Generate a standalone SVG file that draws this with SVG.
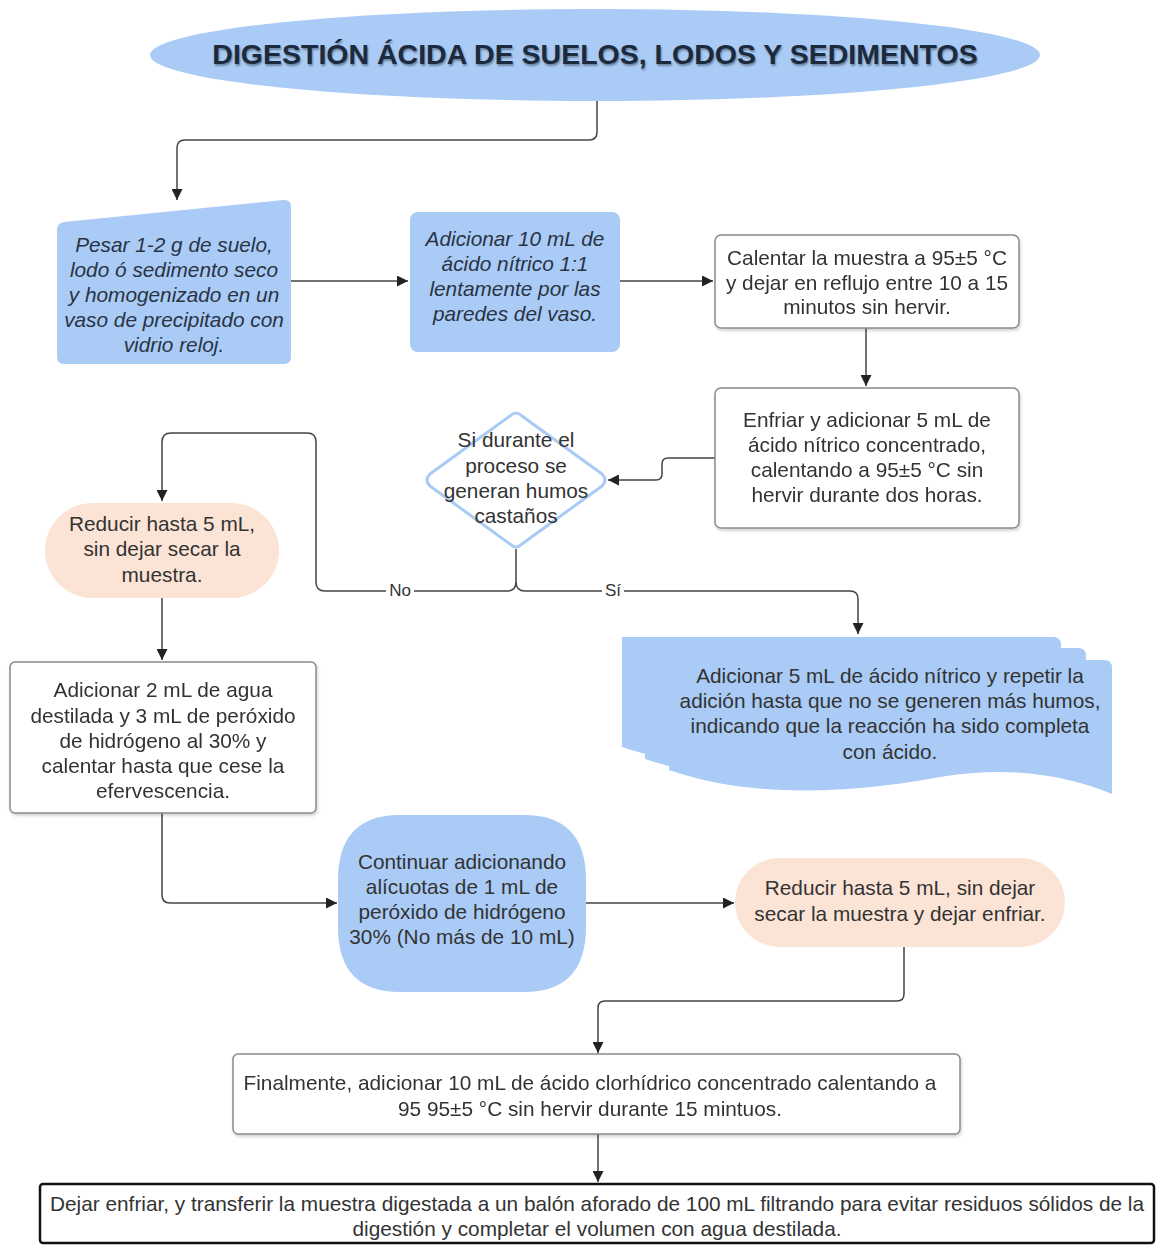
<svg xmlns="http://www.w3.org/2000/svg" width="1157" height="1245" viewBox="0 0 1157 1245">
  <defs>
    <style>
      .t { font-family: "Liberation Sans", Arial, sans-serif; font-size: 20.8px; fill: #333; text-anchor: middle; }
      .it { font-style: italic; fill: #2a3344; }
      .title { font-family: "Liberation Sans", Arial, sans-serif; font-size: 28.5px; font-weight: bold; fill: #1c2a3e; text-anchor: middle; }
      .blue { fill: #a9cbf6; }
      .peach { fill: #fbe4d5; }
      .box { fill: #fff; stroke: #8a8a8a; stroke-width: 1.5; }
      .wire { fill: none; stroke: #444; stroke-width: 1.5; }
      .lbl { font-family: "Liberation Sans", Arial, sans-serif; font-size: 17px; fill: #333; text-anchor: middle; }
    </style>
    <marker id="arrow" viewBox="0 0 10 10" refX="10" refY="5" markerWidth="11" markerHeight="11" markerUnits="userSpaceOnUse" orient="auto">
      <path d="M0,0 L10,5 L0,10 Z" fill="#222"/>
    </marker>
    <filter id="shadow" x="-5%" y="-5%" width="110%" height="115%">
      <feDropShadow dx="1" dy="2" stdDeviation="1.5" flood-color="#000" flood-opacity="0.18"/>
    </filter>
  </defs>

  <rect width="1157" height="1245" fill="#fff"/>

  <!-- connectors -->
  <g id="connectors">
    <path class="wire" d="M597,100 V132 Q597,140 589,140 H185 Q177,140 177,148 V200" marker-end="url(#arrow)"/>
    <path class="wire" d="M291,281 H408" marker-end="url(#arrow)"/>
    <path class="wire" d="M620,281 H713" marker-end="url(#arrow)"/>
    <path class="wire" d="M866,328 V386" marker-end="url(#arrow)"/>
    <path class="wire" d="M715,458 H668 Q662,458 662,464 V474 Q662,480 656,480 H608" marker-end="url(#arrow)"/>
    <!-- decision branches -->
    <path class="wire" d="M516,549 V582 Q516,591 507,591 H325 Q316,591 316,582 V442 Q316,433 307,433 H171 Q162,433 162,442 V501" marker-end="url(#arrow)"/>
    <path class="wire" d="M516,582 Q516,591 525,591 H850 Q858,591 858,599 V634" marker-end="url(#arrow)"/>
    <rect x="386" y="581" width="28" height="18" fill="#fff"/>
    <text class="lbl" x="400" y="596">No</text>
    <rect x="602" y="581" width="22" height="18" fill="#fff"/>
    <text class="lbl" x="613" y="596">Sí</text>
    <path class="wire" d="M162,598 V660" marker-end="url(#arrow)"/>
    <path class="wire" d="M162,813 V895 Q162,903 170,903 H337" marker-end="url(#arrow)"/>
    <path class="wire" d="M586,903 H734" marker-end="url(#arrow)"/>
    <path class="wire" d="M904,947 V994 Q904,1001 897,1001 H605 Q598,1001 598,1008 V1053" marker-end="url(#arrow)"/>
    <path class="wire" d="M598,1134 V1182" marker-end="url(#arrow)"/>
  </g>

  <!-- title -->
  <g id="title">
    <ellipse class="blue" cx="595" cy="55" rx="445" ry="46"/>
    <text class="title" x="595" y="64" style="text-shadow: 1px 2px 2px rgba(0,0,0,0.35)">DIGESTIÓN ÁCIDA DE SUELOS, LODOS Y SEDIMENTOS</text>
  </g>

  <!-- manual input: weigh the sample -->
  <g id="n-pesar">
    <path class="blue" d="M57,230 Q57,223 64,222 L283,200 Q291,199 291,207 V357 Q291,364 284,364 H64 Q57,364 57,357 Z"/>
    <text class="t it" x="174" y="252">Pesar 1-2 g de suelo,</text>
    <text class="t it" x="174" y="277">lodo ó sedimento seco</text>
    <text class="t it" x="174" y="302">y homogenizado en un</text>
    <text class="t it" x="174" y="327">vaso de precipitado con</text>
    <text class="t it" x="174" y="352">vidrio reloj.</text>
  </g>

  <g id="n-nitrico-11">
    <rect class="blue" x="410" y="212" width="210" height="140" rx="8"/>
    <text class="t it" x="515" y="246">Adicionar 10 mL de</text>
    <text class="t it" x="515" y="271">ácido nítrico 1:1</text>
    <text class="t it" x="515" y="296">lentamente por las</text>
    <text class="t it" x="515" y="321">paredes del vaso.</text>
  </g>

  <g id="n-calentar" filter="url(#shadow)">
    <rect class="box" x="715" y="235" width="304" height="93" rx="6"/>
    <text class="t" x="867" y="265">Calentar la muestra a 95±5 °C</text>
    <text class="t" x="867" y="290">y dejar en reflujo entre 10 a 15</text>
    <text class="t" x="867" y="314">minutos sin hervir.</text>
  </g>

  <g id="n-enfriar" filter="url(#shadow)">
    <rect class="box" x="715" y="388" width="304" height="140" rx="6"/>
    <text class="t" x="867" y="427">Enfriar y adicionar 5 mL de</text>
    <text class="t" x="867" y="452">ácido nítrico concentrado,</text>
    <text class="t" x="867" y="477">calentando a 95±5 °C sin</text>
    <text class="t" x="867" y="502">hervir durante dos horas.</text>
  </g>

  <!-- decision -->
  <g id="n-decision">
    <path d="M510,416 Q516,410 522,416 L602,474 Q608,480 602,486 L522,544 Q516,550 510,544 L430,486 Q424,480 430,474 Z" fill="#fff" stroke="#a9cbf6" stroke-width="3"/>
    <text class="t" x="516" y="447">Si durante el</text>
    <text class="t" x="516" y="473">proceso se</text>
    <text class="t" x="516" y="498">generan humos</text>
    <text class="t" x="516" y="523">castaños</text>
  </g>

  <g id="n-reducir-1">
    <rect class="peach" x="45" y="503" width="234" height="95" rx="47.5"/>
    <text class="t" x="162" y="531">Reducir hasta 5 mL,</text>
    <text class="t" x="162" y="556">sin dejar secar la</text>
    <text class="t" x="162" y="582">muestra.</text>
  </g>

  <!-- multiple documents -->
  <g id="n-repetir">
    <path class="blue" d="M622,637 H1053 Q1061,637 1061,645 V770 C1020,752 960,742 893,755 C823,768 713,778 622,747 Z"/>
    <path class="blue" d="M645,648 H1078 Q1086,648 1086,656 V782 C1045,764 985,754 916,766 C846,780 736,790 645,759 Z"/>
    <path class="blue" d="M669,660 H1104 Q1112,660 1112,668 V794 C1070,776 1010,765 940,777 C870,790 760,802 669,770 Z"/>
    <text class="t" x="890" y="683">Adicionar 5 mL de ácido nítrico y repetir la</text>
    <text class="t" x="890" y="708">adición hasta que no se generen más humos,</text>
    <text class="t" x="890" y="733">indicando que la reacción ha sido completa</text>
    <text class="t" x="890" y="759">con ácido.</text>
  </g>

  <g id="n-peroxido" filter="url(#shadow)">
    <rect class="box" x="10" y="662" width="306" height="151" rx="5"/>
    <text class="t" x="163" y="697">Adicionar 2 mL de agua</text>
    <text class="t" x="163" y="723">destilada y 3 mL de peróxido</text>
    <text class="t" x="163" y="748">de hidrógeno al 30% y</text>
    <text class="t" x="163" y="773">calentar hasta que cese la</text>
    <text class="t" x="163" y="798">efervescencia.</text>
  </g>

  <g id="n-continuar">
    <path class="blue" d="M400,815 H524 Q586,815 586,880 V927 Q586,992 524,992 H400 Q338,992 338,927 V880 Q338,815 400,815 Z"/>
    <text class="t" x="462" y="869">Continuar adicionando</text>
    <text class="t" x="462" y="894">alícuotas de 1 mL de</text>
    <text class="t" x="462" y="919">peróxido de hidrógeno</text>
    <text class="t" x="462" y="944">30% (No más de 10 mL)</text>
  </g>

  <g id="n-reducir-2">
    <rect class="peach" x="735" y="858" width="330" height="89" rx="44.5"/>
    <text class="t" x="900" y="895">Reducir hasta 5 mL, sin dejar</text>
    <text class="t" x="900" y="921">secar la muestra y dejar enfriar.</text>
  </g>

  <g id="n-clorhidrico" filter="url(#shadow)">
    <rect class="box" x="233" y="1054" width="727" height="80" rx="5"/>
    <text class="t" x="590" y="1090">Finalmente, adicionar 10 mL de ácido clorhídrico concentrado calentando a</text>
    <text class="t" x="590" y="1116">95 95±5 °C sin hervir durante 15 mintuos.</text>
  </g>

  <g id="n-final">
    <rect x="40" y="1184" width="1114" height="59" rx="3" fill="#fff" stroke="#111" stroke-width="2.5"/>
    <text class="t" x="597" y="1211">Dejar enfriar, y transferir la muestra digestada a un balón aforado de 100 mL filtrando para evitar residuos sólidos de la</text>
    <text class="t" x="597" y="1236">digestión y completar el volumen con agua destilada.</text>
  </g>
</svg>
